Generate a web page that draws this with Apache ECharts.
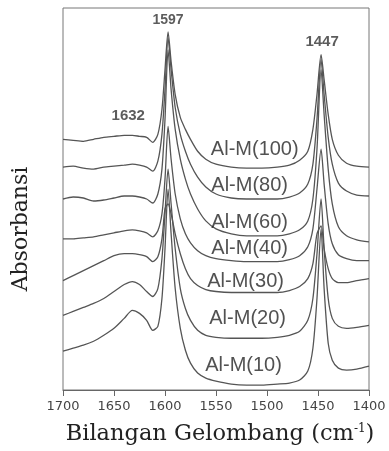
<!DOCTYPE html>
<html>
<head>
<meta charset="utf-8">
<script src="https://cdn.jsdelivr.net/npm/echarts@6/dist/echarts.min.js"></script>
<style>
  html, body { margin: 0; padding: 0; background: #fff; }
  #chart { width: 389px; height: 451px; }
</style>
</head>
<body>
<div id="chart"></div>
<script>
// wavenumbers (cm-1), shared by every spectrum
const wavenumbers = [1700, 1690, 1680, 1670, 1660, 1650, 1640, 1632, 1625, 1618, 1612, 1607, 1603, 1600, 1597, 1594, 1590, 1585, 1580, 1575, 1568, 1560, 1550, 1535, 1520, 1505, 1490, 1478, 1468, 1460, 1455, 1451, 1447, 1444, 1440, 1436, 1430, 1422, 1412, 1400];

// stacked absorbance traces (arbitrary units, offset already applied)
const alm100 = [252, 251, 250, 252, 254, 255, 256, 256, 255, 254, 249, 257, 282, 322, 360, 330, 297, 274, 262, 252, 240, 232, 227, 224, 223, 223, 224, 226, 231, 240, 262, 297, 337, 312, 277, 252, 236, 228, 225, 224];
const alm80 = [224, 225, 223, 222, 224, 225, 226, 227, 226, 224, 220, 230, 257, 302, 354, 322, 284, 257, 240, 227, 214, 204, 197, 193, 192, 192, 192, 194, 198, 207, 227, 272, 332, 297, 254, 227, 208, 200, 196, 195];
const alm60 = [192, 194, 193, 190, 191, 193, 195, 195, 194, 192, 188, 197, 222, 272, 342, 302, 262, 232, 212, 197, 182, 170, 162, 157, 155, 155, 155, 157, 161, 170, 192, 242, 322, 277, 222, 187, 164, 155, 151, 149];
const alm40 = [152, 152, 153, 154, 156, 158, 160, 161, 160, 158, 154, 160, 177, 212, 265, 232, 197, 172, 157, 148, 140, 135, 132, 130, 129, 129, 129, 131, 135, 144, 162, 202, 242, 207, 167, 147, 136, 132, 130, 130];
const alm30 = [110, 115, 120, 125, 130, 135, 137, 137, 136, 134, 129, 134, 152, 182, 187, 177, 157, 137, 122, 112, 105, 101, 99, 98, 98, 98, 98, 100, 104, 112, 127, 157, 165, 142, 122, 112, 108, 108, 110, 112];
const alm20 = [75, 79, 83, 87, 92, 99, 106, 109, 106, 99, 94, 102, 132, 177, 222, 187, 142, 102, 82, 70, 60, 55, 53, 52, 52, 52, 53, 55, 59, 70, 92, 137, 192, 142, 92, 72, 64, 62, 63, 65];
const alm10 = [39, 42, 45, 49, 55, 62, 72, 80, 77, 70, 60, 64, 92, 142, 202, 157, 102, 62, 40, 27, 17, 12, 9, 6, 5, 5, 6, 7, 10, 19, 42, 92, 162, 102, 47, 30, 22, 20, 21, 24];

const seriesNames = ['Al-M(100)', 'Al-M(80)', 'Al-M(60)', 'Al-M(40)', 'Al-M(30)', 'Al-M(20)', 'Al-M(10)'];
const seriesValues = [alm100, alm80, alm60, alm40, alm30, alm20, alm10];

// where each trace name sits: [wavenumber, absorbance]
const sampleLabelX = [1512, 1517, 1517, 1517, 1521, 1519, 1523];
const sampleLabelY = [242, 206, 168, 142, 109, 72, 25];

// band positions written above the peaks
const bandText = ['1597', '1447', '1632'];
const bandX = [1597, 1446, 1636];
const bandY = [372, 350, 276];
const bandSize = [14, 15, 15];

const xTicks = [1400, 1450, 1500, 1550, 1600, 1650, 1700];

const chart = echarts.init(document.getElementById('chart'), null, { renderer: 'canvas' });

const lineSeries = seriesValues.map((vals, i) => ({
  name: seriesNames[i],
  type: 'line',
  smooth: 0.25,
  showSymbol: false,
  symbol: 'none',
  lineStyle: { color: '#555', width: 1.3 },
  data: vals.map((v, j) => [wavenumbers[j], v]),
  z: 2,
}));

const labelSeries = {
  type: 'scatter',
  symbolSize: 0,
  silent: true,
  z: 5,
  label: {
    show: true,
    position: 'inside',
    fontFamily: 'Liberation Sans',
    fontSize: 20,
    color: '#262626',
    formatter: (p) => p.data[2],
  },
  data: seriesNames.map((n, i) => [sampleLabelX[i], sampleLabelY[i], n]),
};

const bandSeries = {
  type: 'scatter',
  symbolSize: 0,
  silent: true,
  z: 5,
  data: bandText.map((t, i) => ({
    value: [bandX[i], bandY[i], t],
    label: {
      show: true,
      position: 'inside',
      fontFamily: 'Liberation Sans',
      fontWeight: 'bold',
      fontSize: bandSize[i],
      color: '#333',
      formatter: t,
    },
  })),
};

chart.setOption({
  animation: false,
  grid: {
    left: 63,
    right: 20,
    top: 8,
    bottom: 59,
    show: true,
    borderColor: '#777',
    borderWidth: 1,
  },
  xAxis: {
    type: 'value',
    inverse: true,
    min: xTicks[0],
    max: xTicks[xTicks.length - 1],
    interval: 50,
    name: '{t|Bilangan Gelombang (cm}{s|-1}{t|)}',
    nameLocation: 'middle',
    nameGap: 33,
    nameTextStyle: {
      padding: [0, 0, 0, 8],
      rich: {
        t: { fontFamily: 'DejaVu Serif', fontSize: 22.5, color: '#222' },
        s: { fontFamily: 'DejaVu Serif', fontSize: 12, color: '#222', verticalAlign: 'top', padding: [0, 0, 11, 0] },
      },
    },
    axisLine: { lineStyle: { color: '#666', width: 1 } },
    axisTick: { inside: false, length: 6, lineStyle: { color: '#666' } },
    axisLabel: {
      fontFamily: 'DejaVu Sans',
      fontSize: 13,
      color: '#444',
      margin: 10,
      formatter: (v) => String(v),
    },
    splitLine: { show: false },
  },
  yAxis: {
    type: 'value',
    min: 0,
    max: 384,
    name: 'Absorbansi',
    nameLocation: 'middle',
    nameGap: 31,
    nameRotate: 90,
    nameTextStyle: {
      fontFamily: 'DejaVu Serif',
      fontSize: 22,
      color: '#222',
      padding: [0, 60, 0, 0],
    },
    axisLine: { show: false },
    axisTick: { show: false },
    axisLabel: { show: false },
    splitLine: { show: false },
  },
  series: [...lineSeries, labelSeries, bandSeries],
});
</script>
</body>
</html>
